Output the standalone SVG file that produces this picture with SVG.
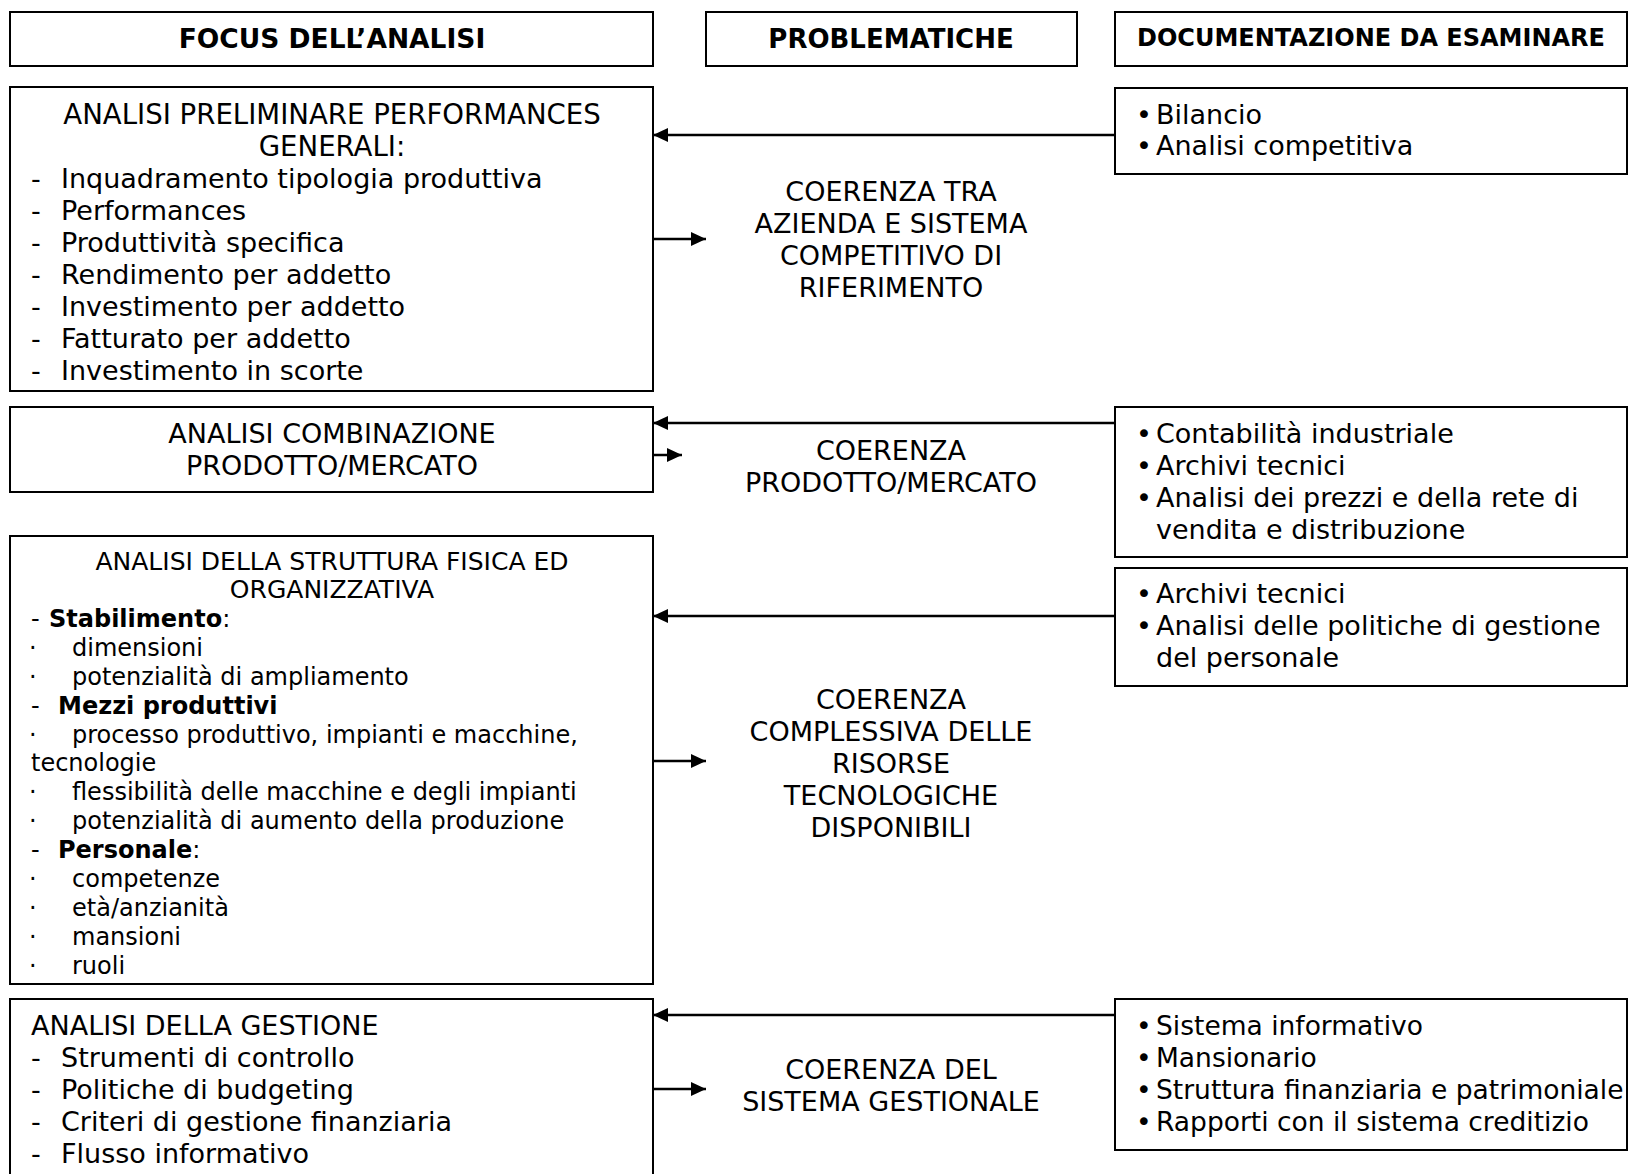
<svg xmlns="http://www.w3.org/2000/svg" width="1629" height="1174" viewBox="0 0 1629 1174">
<style>
.box{fill:#fff;stroke:#000;stroke-width:2}
.t{font-family:"DejaVu Sans",Verdana,sans-serif;font-size:27px;fill:#000}
.s{font-family:"DejaVu Sans",Verdana,sans-serif;font-size:24px;fill:#000}
.h{font-family:"DejaVu Sans",Verdana,sans-serif;font-size:26px;font-weight:bold;fill:#000}
.c{text-anchor:middle}
.b{font-weight:bold}
.con{stroke:#000;stroke-width:2.5;fill:none;marker-end:url(#ah)}
</style>
<defs>
<marker id="ah" markerUnits="userSpaceOnUse" markerWidth="15" markerHeight="14" refX="15" refY="7" orient="auto">
<path d="M0,0 L15,7 L0,14 z" fill="#000"/>
</marker>
</defs>
<rect width="1629" height="1174" fill="#fff"/>

<g id="header-focus">
<rect class="box" x="10" y="12" width="643" height="54"/>
<text class="h c" x="332" y="48" style="font-size:26.5px">FOCUS DELL’ANALISI</text>
</g>
<g id="header-problematiche">
<rect class="box" x="706" y="12" width="371" height="54"/>
<text class="h c" x="891" y="48">PROBLEMATICHE</text>
</g>
<g id="header-documentazione">
<rect class="box" x="1115" y="12" width="512" height="54"/>
<text class="h c" x="1371" y="46" style="font-size:24px">DOCUMENTAZIONE DA ESAMINARE</text>
</g>

<g id="focus-1">
<rect class="box" x="10" y="87" width="643" height="304"/>
<text class="t c" x="332" y="124" style="font-size:27.6px">ANALISI PRELIMINARE PERFORMANCES</text>
<text class="t c" x="332" y="156" style="font-size:27.6px">GENERALI:</text>
<text class="t"><tspan x="31" y="188">-</tspan><tspan x="61" y="188">Inquadramento tipologia produttiva</tspan></text>
<text class="t"><tspan x="31" y="220">-</tspan><tspan x="61" y="220">Performances</tspan></text>
<text class="t"><tspan x="31" y="252">-</tspan><tspan x="61" y="252">Produttività specifica</tspan></text>
<text class="t"><tspan x="31" y="284">-</tspan><tspan x="61" y="284">Rendimento per addetto</tspan></text>
<text class="t"><tspan x="31" y="316">-</tspan><tspan x="61" y="316">Investimento per addetto</tspan></text>
<text class="t"><tspan x="31" y="348">-</tspan><tspan x="61" y="348">Fatturato per addetto</tspan></text>
<text class="t"><tspan x="31" y="380">-</tspan><tspan x="61" y="380">Investimento in scorte</tspan></text>
</g>

<g id="problema-1">
<text class="t c" x="891" y="201">COERENZA TRA</text>
<text class="t c" x="891" y="233">AZIENDA E SISTEMA</text>
<text class="t c" x="891" y="265">COMPETITIVO DI</text>
<text class="t c" x="891" y="297">RIFERIMENTO</text>
</g>

<g id="doc-1">
<rect class="box" x="1115" y="88" width="512" height="86"/>
<text class="t"><tspan x="1136" y="124">•</tspan><tspan x="1156" y="124">Bilancio</tspan></text>
<text class="t"><tspan x="1136" y="155">•</tspan><tspan x="1156" y="155">Analisi competitiva</tspan></text>
</g>

<g id="focus-2">
<rect class="box" x="10" y="407" width="643" height="85"/>
<text class="t c" x="332" y="443">ANALISI COMBINAZIONE</text>
<text class="t c" x="332" y="475">PRODOTTO/MERCATO</text>
</g>

<g id="problema-2">
<text class="t c" x="891" y="460">COERENZA</text>
<text class="t c" x="891" y="492">PRODOTTO/MERCATO</text>
</g>

<g id="doc-2">
<rect class="box" x="1115" y="407" width="512" height="150"/>
<text class="t"><tspan x="1136" y="443">•</tspan><tspan x="1156" y="443">Contabilità industriale</tspan></text>
<text class="t"><tspan x="1136" y="475">•</tspan><tspan x="1156" y="475">Archivi tecnici</tspan></text>
<text class="t"><tspan x="1136" y="507">•</tspan><tspan x="1156" y="507">Analisi dei prezzi e della rete di</tspan></text>
<text class="t" x="1156" y="539">vendita e distribuzione</text>
</g>

<g id="doc-3">
<rect class="box" x="1115" y="568" width="512" height="118"/>
<text class="t"><tspan x="1136" y="603">•</tspan><tspan x="1156" y="603">Archivi tecnici</tspan></text>
<text class="t"><tspan x="1136" y="635">•</tspan><tspan x="1156" y="635">Analisi delle politiche di gestione</tspan></text>
<text class="t" x="1156" y="667">del personale</text>
</g>

<g id="focus-3">
<rect class="box" x="10" y="536" width="643" height="448"/>
<text class="s c" x="332" y="570" style="font-size:25px">ANALISI DELLA STRUTTURA FISICA ED</text>
<text class="s c" x="332" y="598" style="font-size:25px">ORGANIZZATIVA</text>
<text class="s"><tspan x="31" y="627">-</tspan><tspan x="49" y="627" class="b">Stabilimento</tspan><tspan>:</tspan></text>
<text class="s"><tspan x="29" y="656">·</tspan><tspan x="72" y="656">dimensioni</tspan></text>
<text class="s"><tspan x="29" y="685">·</tspan><tspan x="72" y="685">potenzialità di ampliamento</tspan></text>
<text class="s"><tspan x="31" y="714">-</tspan><tspan x="58" y="714" class="b">Mezzi produttivi</tspan></text>
<text class="s"><tspan x="29" y="743">·</tspan><tspan x="72" y="743">processo produttivo, impianti e macchine,</tspan></text>
<text class="s" x="31" y="771">tecnologie</text>
<text class="s"><tspan x="29" y="800">·</tspan><tspan x="72" y="800">flessibilità delle macchine e degli impianti</tspan></text>
<text class="s"><tspan x="29" y="829">·</tspan><tspan x="72" y="829">potenzialità di aumento della produzione</tspan></text>
<text class="s"><tspan x="31" y="858">-</tspan><tspan x="58" y="858" class="b">Personale</tspan><tspan>:</tspan></text>
<text class="s"><tspan x="29" y="887">·</tspan><tspan x="72" y="887">competenze</tspan></text>
<text class="s"><tspan x="29" y="916">·</tspan><tspan x="72" y="916">età/anzianità</tspan></text>
<text class="s"><tspan x="29" y="945">·</tspan><tspan x="72" y="945">mansioni</tspan></text>
<text class="s"><tspan x="29" y="974">·</tspan><tspan x="72" y="974">ruoli</tspan></text>
</g>

<g id="problema-3">
<text class="t c" x="891" y="709">COERENZA</text>
<text class="t c" x="891" y="741">COMPLESSIVA DELLE</text>
<text class="t c" x="891" y="773">RISORSE</text>
<text class="t c" x="891" y="805">TECNOLOGICHE</text>
<text class="t c" x="891" y="837">DISPONIBILI</text>
</g>

<g id="focus-4">
<rect class="box" x="10" y="999" width="643" height="190"/>
<text class="t" x="31" y="1035">ANALISI DELLA GESTIONE</text>
<text class="t"><tspan x="31" y="1067">-</tspan><tspan x="61" y="1067">Strumenti di controllo</tspan></text>
<text class="t"><tspan x="31" y="1099">-</tspan><tspan x="61" y="1099">Politiche di budgeting</tspan></text>
<text class="t"><tspan x="31" y="1131">-</tspan><tspan x="61" y="1131">Criteri di gestione finanziaria</tspan></text>
<text class="t"><tspan x="31" y="1163">-</tspan><tspan x="61" y="1163">Flusso informativo</tspan></text>
</g>

<g id="problema-4">
<text class="t c" x="891" y="1079">COERENZA DEL</text>
<text class="t c" x="891" y="1111">SISTEMA GESTIONALE</text>
</g>

<g id="doc-4">
<rect class="box" x="1115" y="999" width="512" height="151"/>
<text class="t" style="font-size:26.5px"><tspan x="1136" y="1035">•</tspan><tspan x="1156" y="1035">Sistema informativo</tspan></text>
<text class="t" style="font-size:26.5px"><tspan x="1136" y="1067">•</tspan><tspan x="1156" y="1067">Mansionario</tspan></text>
<text class="t" style="font-size:26.5px"><tspan x="1136" y="1099">•</tspan><tspan x="1156" y="1099">Struttura finanziaria e patrimoniale</tspan></text>
<text class="t" style="font-size:26.5px"><tspan x="1136" y="1131">•</tspan><tspan x="1156" y="1131">Rapporti con il sistema creditizio</tspan></text>
</g>

<g id="connectors">
<path class="con" d="M1115,135 L653,135"/>
<path class="con" d="M653,239 L706,239"/>
<path class="con" d="M1115,423 L653,423"/>
<path class="con" d="M653,455 L682,455"/>
<path class="con" d="M1115,616 L653,616"/>
<path class="con" d="M653,761 L706,761"/>
<path class="con" d="M1115,1015 L653,1015"/>
<path class="con" d="M653,1089 L706,1089"/>
</g>
</svg>
